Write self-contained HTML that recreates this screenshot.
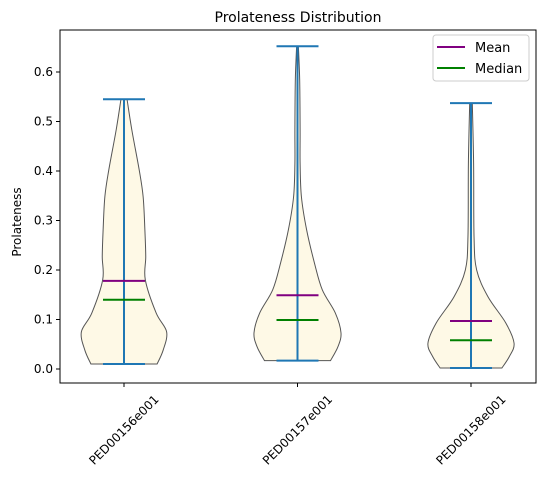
<!DOCTYPE html>
<html><head><meta charset="utf-8"><style>
body{margin:0;background:#fff;font-family:"Liberation Sans","DejaVu Sans",sans-serif}
svg text{font-family:"DejaVu Sans","Liberation Sans",sans-serif}
</style></head><body>
<svg id="chart" width="545" height="485" xmlns="http://www.w3.org/2000/svg">
<text x="298" y="22" text-anchor="middle" font-size="14">Prolateness Distribution</text>
<g id="plot"></g>
<rect x="60" y="30" width="476" height="353" fill="none" stroke="#000" stroke-width="1"/>
<text transform="translate(21,222) rotate(-90)" text-anchor="middle" font-size="12">Prolateness</text>
<g>
<rect x="433" y="35" width="96" height="46" rx="3" fill="#fff" fill-opacity="0.8" stroke="#ccc"/>
<line x1="437" y1="47" x2="465" y2="47" stroke="purple" stroke-width="2"/>
<text x="475" y="52" font-size="13">Mean</text>
<line x1="437" y1="68" x2="465" y2="68" stroke="green" stroke-width="2"/>
<text x="475" y="73" font-size="13">Median</text>
</g>
</svg>
<script>
const categories=["PED00156e001","PED00157e001","PED00158e001"];
const mins=[0.01,0.017,0.002];
const maxs=[0.545,0.652,0.537];
const means=[0.178,0.149,0.097];
const medians=[0.14,0.099,0.058];
const yTicks=[0,0.1,0.2,0.3,0.4,0.5,0.6];
const yTickLabels=["0.0","0.1","0.2","0.3","0.4","0.5","0.6"];
// density profiles: value levels and relative density (0..1)
const densVals=[
 [0.01,0.038,0.075,0.113,0.18,0.227,0.281,0.348,0.402,0.483,0.545],
 [0.017,0.045,0.073,0.113,0.16,0.214,0.281,0.348,0.415,0.483,0.584,0.652],
 [0.002,0.025,0.052,0.093,0.146,0.2,0.267,0.415,0.537]];
const dens=[
 [0.76,0.9,0.98,0.74,0.49,0.5,0.48,0.44,0.35,0.18,0.07],
 [0.76,0.93,1.0,0.87,0.57,0.39,0.21,0.09,0.06,0.06,0.05,0.02],
 [0.71,0.88,0.99,0.8,0.39,0.13,0.07,0.06,0.03]];
const X0=60,X1=536,Y0=30,Y1=383;
const xS=i=>124+i*173.5;
const yS=v=>369-v*495;
const maxHalf=43.5, capHalf=21;
const NS="http://www.w3.org/2000/svg";
const plot=document.getElementById('plot');
function mk(t,a,p){const e=document.createElementNS(NS,t);for(const k in a)e.setAttribute(k,a[k]);(p||plot).appendChild(e);return e;}
function smooth(pts){let d="M"+pts[0][0]+","+pts[0][1];for(let i=0;i<pts.length-1;i++){const p0=pts[i-1]||pts[i],p1=pts[i],p2=pts[i+1],p3=pts[i+2]||p2;
 d+=` C${p1[0]+(p2[0]-p0[0])/6},${p1[1]+(p2[1]-p0[1])/6} ${p2[0]-(p3[0]-p1[0])/6},${p2[1]-(p3[1]-p1[1])/6} ${p2[0]},${p2[1]}`;}return d;}
yTicks.forEach((t,i)=>{const y=yS(t);
 const l=mk('line',{x1:X0-4,x2:X0,y1:y,y2:y,stroke:'#000'});
 
 const tx=mk('text',{x:X0-7,y:y+4,'text-anchor':'end','font-size':12});tx.textContent=yTickLabels[i];
 });
categories.forEach((c,i)=>{const cx=xS(i);
 const vs=densVals[i],ds=dens[i];
 const right=vs.map((v,k)=>[cx+ds[k]*maxHalf,yS(v)]);
 const left=vs.map((v,k)=>[cx-ds[k]*maxHalf,yS(v)]).reverse();
 let d=smooth(right)+" L"+left[0][0]+","+left[0][1]+" "+smooth(left).slice(1).replace(/^[^C]*/,'')+" Z";
 const b=mk('path',{d:d,fill:'#fef9e6',stroke:'#555','stroke-width':1});
 
 const st='#1f77b4';
 const v=mk('line',{x1:cx,x2:cx,y1:yS(mins[i]),y2:yS(maxs[i]),stroke:st,'stroke-width':2});
 
 [mins[i],maxs[i]].forEach(val=>{const cp=mk('line',{x1:cx-capHalf,x2:cx+capHalf,y1:yS(val),y2:yS(val),stroke:st,'stroke-width':2});
  });
 const m=mk('line',{x1:cx-capHalf,x2:cx+capHalf,y1:yS(means[i]),y2:yS(means[i]),stroke:'purple','stroke-width':2});
 
 const md=mk('line',{x1:cx-capHalf,x2:cx+capHalf,y1:yS(medians[i]),y2:yS(medians[i]),stroke:'green','stroke-width':2});
 
 const tk=mk('line',{x1:cx,x2:cx,y1:Y1,y2:Y1+4,stroke:'#000'});
 
 const tx=mk('text',{x:0,y:4,'text-anchor':'middle','font-size':12,transform:`translate(${cx},${Y1+47}) rotate(-45)`});
 tx.textContent=c;
 
});
</script>
</body></html>
